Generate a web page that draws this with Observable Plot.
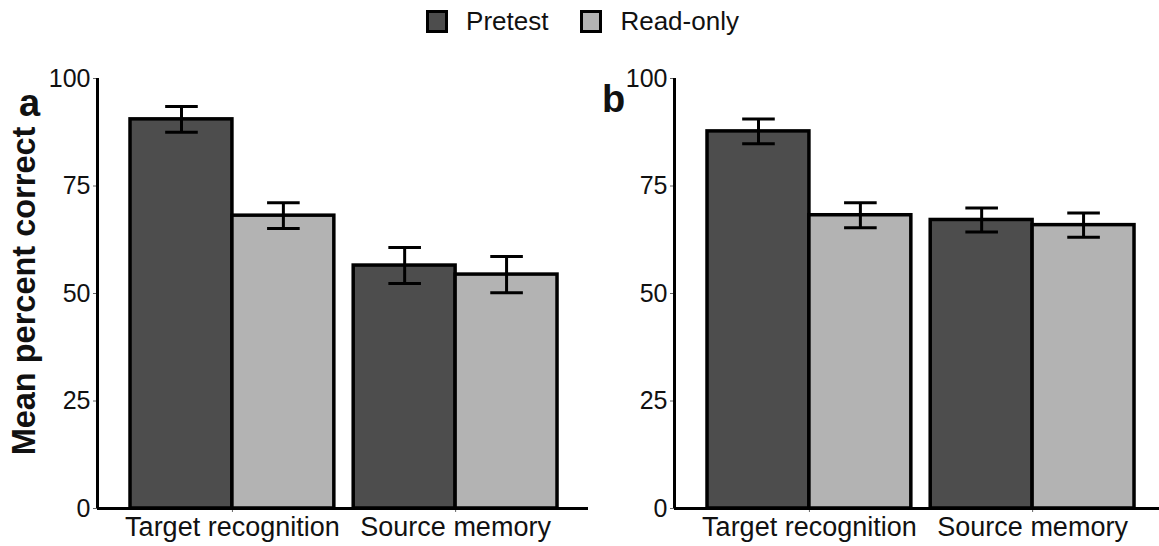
<!DOCTYPE html>
<html><head><meta charset="utf-8">
<script src="https://cdn.jsdelivr.net/npm/d3@7"></script>
<script src="https://cdn.jsdelivr.net/npm/@observablehq/plot@0.6"></script>
<style>
html,body{margin:0;padding:0;background:#fff;}
body{width:1159px;height:546px;overflow:hidden;position:relative;font-family:"Liberation Sans",Arial,sans-serif;color:#111;}
.panel{position:absolute;top:0;width:590px;height:546px;}
.panel svg{max-width:none !important;}
#legend{position:absolute;top:6px;left:3px;width:1159px;display:flex;justify-content:center;align-items:center;font-size:26px;}
.item{display:flex;align-items:center;margin:0 16px;}
.sw{width:16px;height:17px;border:3px solid #000;margin-right:18px;}
.letter{position:absolute;font-weight:bold;font-size:38px;line-height:1;}
#ylabel{position:absolute;font-weight:bold;font-size:32.5px;white-space:nowrap;transform:translate(-50%,-50%) rotate(-90deg);}
.xl text{font-size:27px;}
</style></head>
<body>
<div id="pa" class="panel" style="left:0"></div>
<div id="pb" class="panel" style="left:577px"></div>
<div id="legend"></div>
<div id="ylabel" style="left:24px;top:291px"></div>
<script>
const categories = ["Target recognition", "Source memory"];
const conditions = ["Pretest", "Read-only"];
const colors = ["#4d4d4d", "#b3b3b3"];
const panelLabels = ["a", "b"];
const yTicks = [0, 25, 50, 75, 100];
const yLabel = "Mean percent correct";
// mean percent correct, [category][condition]
const meansA = [[90.5, 68.1], [56.5, 54.4]];
const errA   = [[3.0, 3.0], [4.2, 4.2]];
const meansB = [[87.7, 68.2], [67.1, 65.9]];
const errB   = [[2.9, 2.9], [2.8, 2.8]];

const GAP = 0.19, CAP = 0.16;
function panel(means, errs) {
  const rows = [];
  categories.forEach((cat, g) => conditions.forEach((cond, c) =>
    rows.push({cat, cond, g, c, v: means[g][c], e: errs[g][c]})));
  const x1 = d => d.g * (2 + GAP) + d.c, x2 = d => x1(d) + 1, xm = d => x1(d) + 0.5;
  const centers = categories.map((_, g) => g * (2 + GAP) + 1);
  const xmin = -0.324, xmax = 2 * (2 + GAP) - GAP + 0.304;
  return Plot.plot({
    width: 590, height: 546, marginTop: 78, marginBottom: 38, marginLeft: 97, marginRight: 2,
    x: {type: "linear", domain: [xmin, xmax]},
    y: {domain: [0, 100]},
    color: {domain: conditions, range: colors},
    style: {fontFamily: "Liberation Sans, Arial, sans-serif", fontSize: "25px", color: "#111", background: "transparent", overflow: "visible"},
    marks: [
      Plot.rect(rows, {x1, x2, y1: 0, y2: "v", fill: "cond", stroke: "#000", strokeWidth: 3.5}),
      Plot.ruleX(rows, {x: xm, y1: d => d.v - d.e, y2: d => d.v + d.e, stroke: "#000", strokeWidth: 3}),
      Plot.link(rows, {x1: d => xm(d) - CAP, x2: d => xm(d) + CAP, y1: d => d.v + d.e, y2: d => d.v + d.e, stroke: "#000", strokeWidth: 3}),
      Plot.link(rows, {x1: d => xm(d) - CAP, x2: d => xm(d) + CAP, y1: d => d.v - d.e, y2: d => d.v - d.e, stroke: "#000", strokeWidth: 3}),
      Plot.axisY({ticks: yTicks, tickSize: 4, tickPadding: 3, label: null, stroke: "#666", fill: "#111"}),
      Plot.axisX({ticks: centers, tickFormat: d => categories[centers.indexOf(d)], tickSize: 4, tickPadding: 4, label: null, stroke: "#666", fill: "#111", className: "xl"}),
      Plot.ruleX([xmin], {y1: 0, y2: 100, stroke: "#000", strokeWidth: 3}),
      Plot.ruleY([0], {stroke: "#000", strokeWidth: 3})
    ]
  });
}
document.getElementById("pa").append(panel(meansA, errA));
document.getElementById("pb").append(panel(meansB, errB));

const lg = document.getElementById("legend");
conditions.forEach((c, i) => {
  const it = document.createElement("div"); it.className = "item";
  const sw = document.createElement("div"); sw.className = "sw"; sw.style.background = colors[i];
  const t = document.createElement("span"); t.textContent = c;
  it.append(sw, t); lg.append(it);
});
document.getElementById("ylabel").textContent = yLabel;
[[panelLabels[0], 19, 84], [panelLabels[1], 602, 80]].forEach(([t, x, y]) => {
  const d = document.createElement("div"); d.className = "letter"; d.textContent = t;
  d.style.left = x + "px"; d.style.top = y + "px"; document.body.append(d);
});
</script>
</body></html>
